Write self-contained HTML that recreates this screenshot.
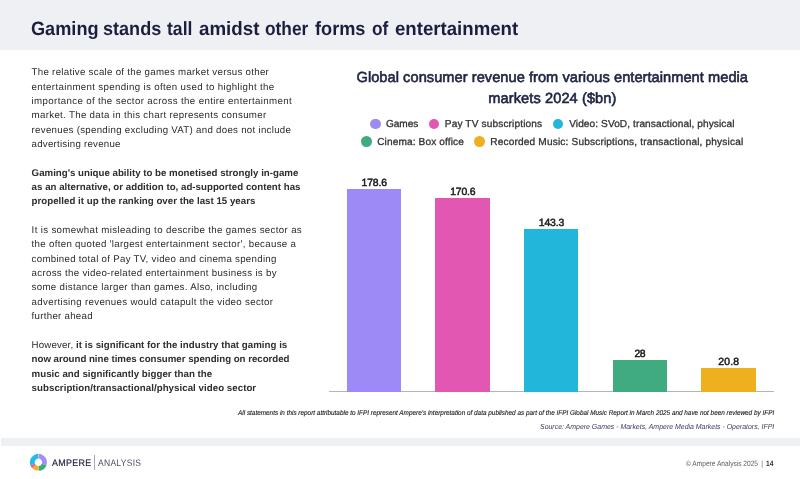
<!DOCTYPE html><html><head><meta charset="utf-8"><title>Gaming stands tall</title><style>
html,body{margin:0;padding:0;background:#fff;}
body{width:800px;height:479px;position:relative;overflow:hidden;font-family:"Liberation Sans", sans-serif;}
.t{position:absolute;white-space:pre;line-height:1;margin:0;text-rendering:geometricPrecision;}
.t b{font-weight:700;}
.t b.k{color:#2e2e2e;}
.m{display:inline-block;width:0;height:0;}
.hd{position:absolute;left:0;top:0;width:799.5px;height:50px;background:#eff0f4;}
.fb{position:absolute;left:1px;top:438px;width:798.5px;height:8px;background:#eff0f4;}
.bar{position:absolute;}
.dot{position:absolute;width:10.8px;height:10.8px;border-radius:50%;}
.axis{position:absolute;left:329px;top:391px;width:445px;height:1px;background:#b4b4b4;}
.vline{position:absolute;left:94px;top:455px;width:1px;height:14.8px;background:#a4a6b6;}
</style></head><body><div class="hd"></div><div class="fb"></div><div class="axis"></div><div class="bar" style="left:347.0px;top:189.0px;width:54.0px;height:203.0px;background:#9e8af6"></div><div class="bar" style="left:435.3px;top:198.0px;width:54.5px;height:194.0px;background:#e157b1"></div><div class="bar" style="left:524.0px;top:229.0px;width:54.4px;height:163.0px;background:#22b6db"></div><div class="bar" style="left:612.9px;top:360.0px;width:54.1px;height:32.0px;background:#40ab80"></div><div class="bar" style="left:701.3px;top:368.1px;width:54.6px;height:23.9px;background:#eeb01e"></div><div class="dot" style="left:370.4px;top:118.7px;background:#9e8af6"></div><div class="dot" style="left:428.6px;top:118.7px;background:#e157b1"></div><div class="dot" style="left:552.5px;top:118.7px;background:#22b6db"></div><div class="dot" style="left:360.8px;top:136.3px;background:#40ab80"></div><div class="dot" style="left:474.4px;top:136.3px;background:#eeb01e"></div><div class="vline"></div><svg style="position:absolute;left:0;top:0" width="800" height="479" viewBox="0 0 800 479"><path d="M38.64 453.85A8.5 8.5 0 0 1 46.41 465.26L41.94 463.63A3.75 3.75 0 0 0 38.52 458.60Z" fill="#a28cf8"/><path d="M46.41 465.26A8.5 8.5 0 0 1 38.64 470.85L38.52 466.10A3.75 3.75 0 0 0 41.94 463.63Z" fill="#3cab78"/><path d="M38.20 470.85A8.5 8.5 0 0 1 32.10 468.04L35.63 464.86A3.75 3.75 0 0 0 38.32 466.10Z" fill="#f5ae1c"/><path d="M32.10 468.04A8.5 8.5 0 0 1 30.48 465.40L34.92 463.69A3.75 3.75 0 0 0 35.63 464.86Z" fill="#ee5596"/><path d="M30.48 465.40A8.5 8.5 0 0 1 38.20 453.85L38.32 458.60A3.75 3.75 0 0 0 34.92 463.69Z" fill="#22bce6"/></svg><div class="t" style="left:31.60px;top:68.21px;font-size:9.7px;color:#2c2c2c;letter-spacing:0.286px;">The relative scale of the games market versus other</div>
<div class="t" style="left:31.60px;top:82.55px;font-size:9.7px;color:#2c2c2c;letter-spacing:0.346px;">entertainment spending is often used to highlight the</div>
<div class="t" style="left:31.60px;top:96.91px;font-size:9.7px;color:#2c2c2c;letter-spacing:0.363px;">importance of the sector across the entire entertainment</div>
<div class="t" style="left:31.60px;top:111.26px;font-size:9.7px;color:#2c2c2c;letter-spacing:0.319px;">market. The data in this chart represents consumer</div>
<div class="t" style="left:31.60px;top:125.60px;font-size:9.7px;color:#2c2c2c;letter-spacing:0.286px;">revenues (spending excluding VAT) and does not include</div>
<div class="t" style="left:31.60px;top:139.96px;font-size:9.7px;color:#2c2c2c;letter-spacing:0.236px;">advertising revenue</div>
<div class="t" style="left:31.60px;top:168.66px;font-size:9.7px;color:#2c2c2c;letter-spacing:0.002px;"><b class="k">Gaming&#x27;s unique ability to be monetised strongly in-game</b></div>
<div class="t" style="left:31.60px;top:183.01px;font-size:9.7px;color:#2c2c2c;letter-spacing:0.024px;"><b class="k">as an alternative, or addition to, ad-supported content has</b></div>
<div class="t" style="left:31.60px;top:197.35px;font-size:9.7px;color:#2c2c2c;letter-spacing:0.018px;"><b class="k">propelled it up the ranking over the last 15 years</b></div>
<div class="t" style="left:31.60px;top:226.05px;font-size:9.7px;color:#2c2c2c;letter-spacing:0.343px;">It is somewhat misleading to describe the games sector as</div>
<div class="t" style="left:31.60px;top:240.41px;font-size:9.7px;color:#2c2c2c;letter-spacing:0.311px;">the often quoted &#x27;largest entertainment sector&#x27;, because a</div>
<div class="t" style="left:31.60px;top:254.76px;font-size:9.7px;color:#2c2c2c;letter-spacing:0.286px;">combined total of Pay TV, video and cinema spending</div>
<div class="t" style="left:31.60px;top:269.10px;font-size:9.7px;color:#2c2c2c;letter-spacing:0.310px;">across the video-related entertainment business is by</div>
<div class="t" style="left:31.60px;top:283.46px;font-size:9.7px;color:#2c2c2c;letter-spacing:0.320px;">some distance larger than games. Also, including</div>
<div class="t" style="left:31.60px;top:297.80px;font-size:9.7px;color:#2c2c2c;letter-spacing:0.320px;">advertising revenues would catapult the video sector</div>
<div class="t" style="left:31.60px;top:312.16px;font-size:9.7px;color:#2c2c2c;letter-spacing:0.280px;">further ahead</div>
<div class="t" style="left:31.60px;top:340.85px;font-size:9.7px;color:#2c2c2c;letter-spacing:0.160px;">However,</div>
<div class="t" style="left:76.10px;top:340.85px;font-size:9.7px;color:#2c2c2c;letter-spacing:0.026px;"><b class="k">it is significant for the industry that gaming is</b></div>
<div class="t" style="left:31.60px;top:355.21px;font-size:9.7px;color:#2c2c2c;letter-spacing:-0.020px;"><b class="k">now around nine times consumer spending on recorded</b></div>
<div class="t" style="left:31.60px;top:369.55px;font-size:9.7px;color:#2c2c2c;letter-spacing:0.019px;"><b class="k">music and significantly bigger than the</b></div>
<div class="t" style="left:31.60px;top:383.91px;font-size:9.7px;color:#2c2c2c;letter-spacing:0.047px;"><b class="k">subscription/transactional/physical video sector</b></div>
<div class="t" style="left:30.64px;top:19.50px;font-size:19.2px;color:#1b1f3d;letter-spacing:0.000px;transform:scaleX(0.9458);transform-origin:0 0;"><b>Gaming</b></div>
<div class="t" style="left:103.36px;top:19.50px;font-size:19.2px;color:#1b1f3d;letter-spacing:0.000px;transform:scaleX(0.9419);transform-origin:0 0;"><b>stands</b></div>
<div class="t" style="left:167.45px;top:19.50px;font-size:19.2px;color:#1b1f3d;letter-spacing:0.000px;transform:scaleX(0.9180);transform-origin:0 0;"><b>tall</b></div>
<div class="t" style="left:198.85px;top:19.50px;font-size:19.2px;color:#1b1f3d;letter-spacing:0.000px;transform:scaleX(0.9769);transform-origin:0 0;"><b>amidst</b></div>
<div class="t" style="left:265.07px;top:19.50px;font-size:19.2px;color:#1b1f3d;letter-spacing:0.000px;transform:scaleX(0.9010);transform-origin:0 0;"><b>other</b></div>
<div class="t" style="left:315.16px;top:19.50px;font-size:19.2px;color:#1b1f3d;letter-spacing:0.000px;transform:scaleX(0.9467);transform-origin:0 0;"><b>forms</b></div>
<div class="t" style="left:371.90px;top:19.50px;font-size:19.2px;color:#1b1f3d;letter-spacing:0.000px;transform:scaleX(0.9010);transform-origin:0 0;"><b>of</b></div>
<div class="t" style="left:394.86px;top:19.50px;font-size:19.2px;color:#1b1f3d;letter-spacing:0.000px;transform:scaleX(0.9705);transform-origin:0 0;"><b>entertainment</b></div>
<div class="t" style="left:356.50px;top:71.20px;font-size:14.6px;color:#1e2342;letter-spacing:0.053px;-webkit-text-stroke:0.6px #1e2342;">Global consumer revenue from various entertainment media</div>
<div class="t" style="left:488.30px;top:91.91px;font-size:14.6px;color:#1e2342;letter-spacing:0.091px;-webkit-text-stroke:0.6px #1e2342;">markets 2024 ($bn)</div>
<div class="t" style="left:386.00px;top:119.90px;font-size:10.1px;color:#333333;letter-spacing:-0.058px;-webkit-text-stroke:0.3px #333333;">Games</div>
<div class="t" style="left:444.80px;top:119.90px;font-size:10.1px;color:#333333;letter-spacing:0.140px;-webkit-text-stroke:0.3px #333333;">Pay TV subscriptions</div>
<div class="t" style="left:569.20px;top:119.90px;font-size:10.1px;color:#333333;letter-spacing:0.092px;-webkit-text-stroke:0.3px #333333;">Video: SVoD, transactional, physical</div>
<div class="t" style="left:377.20px;top:138.22px;font-size:10.1px;color:#333333;letter-spacing:0.121px;-webkit-text-stroke:0.3px #333333;">Cinema: Box office</div>
<div class="t" style="left:490.30px;top:138.22px;font-size:10.1px;color:#333333;letter-spacing:0.167px;-webkit-text-stroke:0.3px #333333;">Recorded Music: Subscriptions, transactional, physical</div>
<div class="t" style="left:361.55px;top:178.60px;font-size:10.4px;color:#1a1a1a;letter-spacing:-0.127px;-webkit-text-stroke:0.5px #1a1a1a;">178.6</div>
<div class="t" style="left:450.15px;top:188.01px;font-size:10.4px;color:#1a1a1a;letter-spacing:-0.127px;-webkit-text-stroke:0.5px #1a1a1a;">170.6</div>
<div class="t" style="left:538.75px;top:218.81px;font-size:10.4px;color:#1a1a1a;letter-spacing:-0.127px;-webkit-text-stroke:0.5px #1a1a1a;">143.3</div>
<div class="t" style="left:634.60px;top:349.70px;font-size:10.4px;color:#1a1a1a;letter-spacing:-0.562px;-webkit-text-stroke:0.5px #1a1a1a;">28</div>
<div class="t" style="left:718.35px;top:358.20px;font-size:10.4px;color:#1a1a1a;letter-spacing:0.159px;-webkit-text-stroke:0.5px #1a1a1a;">20.8</div>
<div class="t" style="left:238.00px;top:410.91px;font-size:6.9px;color:#1a1a1a;letter-spacing:0.000px;transform:scaleX(0.9272);transform-origin:0 0;font-style:italic;-webkit-text-stroke:0.12px #1a1a1a;">All statements in this report attributable to IFPI represent Ampere&#x27;s interpretation of data published as part of the IFPI Global Music Report in March 2025 and have not been reviewed by IFPI</div>
<div class="t" style="left:540.00px;top:422.71px;font-size:7.3px;color:#3a3e60;letter-spacing:0.000px;transform:scaleX(0.9520);transform-origin:0 0;font-style:italic;">Source: Ampere Games - Markets, Ampere Media Markets - Operators, IFPI</div>
<div class="t" style="left:686.00px;top:459.61px;font-size:7.7px;color:#5a5a5a;letter-spacing:0.000px;transform:scaleX(0.8587);transform-origin:0 0;">© Ampere Analysis 2025  |  <b class="k">14</b></div>
<div class="t" style="left:51.50px;top:457.90px;font-size:9.4px;color:#23263f;letter-spacing:0.300px;transform:scaleX(0.9516);transform-origin:0 0;-webkit-text-stroke:0.2px #23263f;">AMPERE</div>
<div class="t" style="left:97.50px;top:457.90px;font-size:9.4px;color:#4b4e62;letter-spacing:0.300px;transform:scaleX(0.9104);transform-origin:0 0;">ANALYSIS</div></body></html>
